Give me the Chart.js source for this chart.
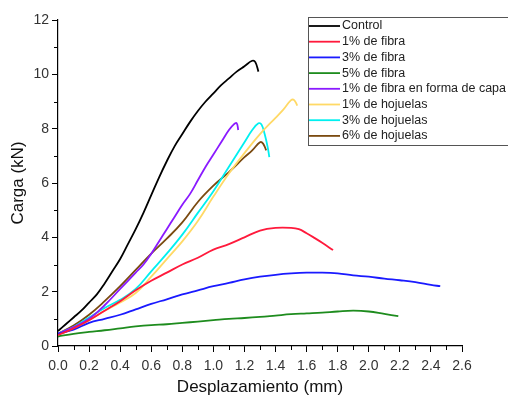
<!DOCTYPE html>
<html>
<head>
<meta charset="utf-8">
<script src="https://cdn.jsdelivr.net/npm/chart.js@4"></script>
<style>
  html, body { margin: 0; padding: 0; background: #fff; }
  #wrap { width: 508px; height: 396px; }
</style>
</head>
<body>
<div id="wrap"><canvas id="chart" width="508" height="396"></canvas></div>
<script>
// series labels + colours
const labels = ['Control', '1% de fibra', '3% de fibra', '5% de fibra',
    '1% de fibra en forma de capa', '1% de hojuelas', '3% de hojuelas', '6% de hojuelas'];
const colors = ['#000000', '#FF1A3C', '#1A1AFF', '#1E8C1E', '#8A1AFF', '#FFD966', '#00F0F0', '#7A4A10'];

// displacement (mm) / load (kN)
const controlX = [0, 0.05, 0.1, 0.15, 0.2, 0.25, 0.3, 0.35, 0.4, 0.45, 0.5, 0.55, 0.6, 0.65, 0.7, 0.75, 0.8, 0.85, 0.9, 0.95, 1.0, 1.05, 1.1, 1.15, 1.2, 1.25, 1.27, 1.29];
const controlY = [0.55, 0.8, 1.05, 1.3, 1.6, 1.9, 2.3, 2.75, 3.2, 3.75, 4.3, 4.9, 5.55, 6.2, 6.8, 7.35, 7.8, 8.25, 8.65, 9.0, 9.3, 9.6, 9.85, 10.1, 10.3, 10.5, 10.45, 10.1];

const fibra1X = [0, 0.1, 0.2, 0.3, 0.4, 0.5, 0.6, 0.7, 0.8, 0.9, 1.0, 1.1, 1.2, 1.3, 1.4, 1.5, 1.55, 1.6, 1.65, 1.7, 1.77];
const fibra1Y = [0.4, 0.65, 0.95, 1.3, 1.65, 2.05, 2.4, 2.7, 3.0, 3.25, 3.55, 3.75, 4.0, 4.25, 4.35, 4.35, 4.3, 4.15, 3.98, 3.8, 3.53];

const fibra3X = [0, 0.1, 0.2, 0.3, 0.4, 0.5, 0.6, 0.7, 0.8, 0.9, 1.0, 1.1, 1.2, 1.3, 1.4, 1.5, 1.6, 1.7, 1.8, 1.9, 2.0, 2.1, 2.2, 2.3, 2.4, 2.46];
const fibra3Y = [0.45, 0.6, 0.85, 1.0, 1.15, 1.35, 1.55, 1.72, 1.9, 2.05, 2.2, 2.32, 2.45, 2.55, 2.62, 2.67, 2.7, 2.7, 2.67, 2.6, 2.55, 2.48, 2.42, 2.35, 2.25, 2.2];

const fibra5X = [0, 0.1, 0.2, 0.3, 0.4, 0.5, 0.6, 0.7, 0.8, 0.9, 1.0, 1.1, 1.2, 1.3, 1.4, 1.5, 1.6, 1.7, 1.8, 1.9, 2.0, 2.1, 2.19];
const fibra5Y = [0.35, 0.45, 0.52, 0.58, 0.65, 0.72, 0.77, 0.8, 0.85, 0.9, 0.95, 1.0, 1.03, 1.07, 1.12, 1.17, 1.2, 1.23, 1.27, 1.3, 1.27, 1.18, 1.1];

const capaX = [0, 0.1, 0.2, 0.3, 0.4, 0.5, 0.55, 0.6, 0.65, 0.7, 0.75, 0.8, 0.85, 0.9, 0.95, 1.0, 1.05, 1.1, 1.13, 1.15, 1.16];
const capaY = [0.45, 0.7, 1.0, 1.5, 2.1, 2.7, 3.0, 3.4, 3.85, 4.3, 4.75, 5.2, 5.6, 6.1, 6.6, 7.05, 7.5, 7.95, 8.15, 8.2, 7.95];

const hoj1X = [0, 0.1, 0.2, 0.3, 0.4, 0.5, 0.6, 0.7, 0.8, 0.9, 1.0, 1.1, 1.2, 1.3, 1.4, 1.45, 1.5, 1.52, 1.54];
const hoj1Y = [0.4, 0.65, 0.95, 1.3, 1.6, 1.95, 2.55, 3.2, 3.85, 4.6, 5.5, 6.35, 7.1, 7.8, 8.4, 8.7, 9.05, 9.05, 8.85];

const hoj3X = [0, 0.1, 0.2, 0.3, 0.4, 0.5, 0.6, 0.7, 0.8, 0.9, 1.0, 1.1, 1.2, 1.25, 1.29, 1.31, 1.33, 1.35, 1.36];
const hoj3Y = [0.45, 0.7, 1.05, 1.4, 1.7, 2.1, 2.75, 3.4, 4.1, 4.9, 5.7, 6.6, 7.5, 7.95, 8.2, 8.15, 7.8, 7.3, 6.95];

const hoj6X = [0, 0.1, 0.2, 0.3, 0.4, 0.5, 0.6, 0.7, 0.8, 0.9, 1.0, 1.1, 1.2, 1.25, 1.3, 1.32, 1.34];
const hoj6Y = [0.45, 0.75, 1.15, 1.65, 2.2, 2.8, 3.4, 3.95, 4.55, 5.3, 5.9, 6.4, 6.95, 7.2, 7.5, 7.45, 7.2];

// axis ticks
const xMajor = [0, 0.2, 0.4, 0.6, 0.8, 1.0, 1.2, 1.4, 1.6, 1.8, 2.0, 2.2, 2.4, 2.6];
const xMinor = [0.1, 0.3, 0.5, 0.7, 0.9, 1.1, 1.3, 1.5, 1.7, 1.9, 2.1, 2.3, 2.5];
const yMajor = [0, 2, 4, 6, 8, 10, 12];
const yMinor = [1, 3, 5, 7, 9, 11];

const seriesX = [controlX, fibra1X, fibra3X, fibra5X, capaX, hoj1X, hoj3X, hoj6X];
const seriesY = [controlY, fibra1Y, fibra3Y, fibra5Y, capaY, hoj1Y, hoj3Y, hoj6Y];

const FONT = 'Liberation Sans, Arial, sans-serif';
const TXT = '#333333';

function pts(xs, ys) {
    return xs.map((x, i) => ({ x, y: ys[i] }));
}

const datasets = labels.map((l, i) => ({
    label: l,
    data: pts(seriesX[i], seriesY[i]),
    borderColor: colors[i],
    borderWidth: 1.8,
    pointRadius: 0,
    tension: 0.4,
    fill: false
}));

// minor tick marks + in-plot legend box
const extras = {
    id: 'extras',
    afterDraw(chart) {
        const ctx = chart.ctx;
        const xs = chart.scales.x, ys = chart.scales.y;
        ctx.save();
        ctx.strokeStyle = '#000';
        ctx.lineWidth = 1;
        ctx.beginPath();
        xMinor.forEach(v => {
            const p = Math.round(xs.getPixelForValue(v)) + 0.5;
            ctx.moveTo(p, xs.top);
            ctx.lineTo(p, xs.top + 4);
        });
        yMinor.forEach(v => {
            const p = Math.round(ys.getPixelForValue(v)) + 0.5;
            ctx.moveTo(ys.right, p);
            ctx.lineTo(ys.right - 4, p);
        });
        ctx.stroke();

        // legend
        const bx = 308.5, by = 17.5, bw = 230, bh = 128;
        ctx.fillStyle = '#fff';
        ctx.fillRect(bx, by, bw, bh);
        ctx.strokeStyle = '#555';
        ctx.strokeRect(bx, by, bw, bh);
        ctx.font = '12.5px ' + FONT;
        ctx.textBaseline = 'middle';
        labels.forEach((l, i) => {
            const y = 26 + i * 15.7;
            ctx.strokeStyle = colors[i];
            ctx.lineWidth = 1.8;
            ctx.beginPath();
            ctx.moveTo(309, y);
            ctx.lineTo(340, y);
            ctx.stroke();
            ctx.fillStyle = '#222';
            ctx.fillText(l, 342, y);
        });
        ctx.restore();
    }
};

new Chart(document.getElementById('chart'), {
    type: 'line',
    data: { datasets },
    plugins: [extras],
    options: {
        responsive: false,
        animation: false,
        layout: { padding: { top: 20, right: 46, left: 0, bottom: 0 } },
        plugins: { legend: { display: false }, tooltip: { enabled: false } },
        scales: {
            x: {
                type: 'linear',
                min: 0, max: 2.6,
                afterBuildTicks: s => { s.ticks = xMajor.map(v => ({ value: v })); },
                afterFit: s => { s.height = 50; },
                border: { color: '#000', width: 1.2 },
                grid: { drawOnChartArea: false, tickLength: 6, color: '#000' },
                ticks: { color: TXT, font: { family: FONT, size: 14 }, padding: 6, maxRotation: 0,
                    callback: v => v.toFixed(1) },
                title: { display: true, text: 'Desplazamiento (mm)', color: '#111',
                    font: { family: FONT, size: 17, lineHeight: 1 }, padding: { top: 0, bottom: 0 } }
            },
            y: {
                type: 'linear',
                min: 0, max: 12,
                afterBuildTicks: s => { s.ticks = yMajor.map(v => ({ value: v })); },
                afterFit: s => { s.width = 58; },
                border: { color: '#000', width: 1.2 },
                grid: { drawOnChartArea: false, tickLength: 6, color: '#000' },
                ticks: { color: TXT, font: { family: FONT, size: 14 }, padding: 3 },
                title: { display: true, text: 'Carga (kN)', color: '#111',
                    font: { family: FONT, size: 17 }, padding: { top: 8, bottom: 0 } }
            }
        }
    }
});
</script>
</body>
</html>
